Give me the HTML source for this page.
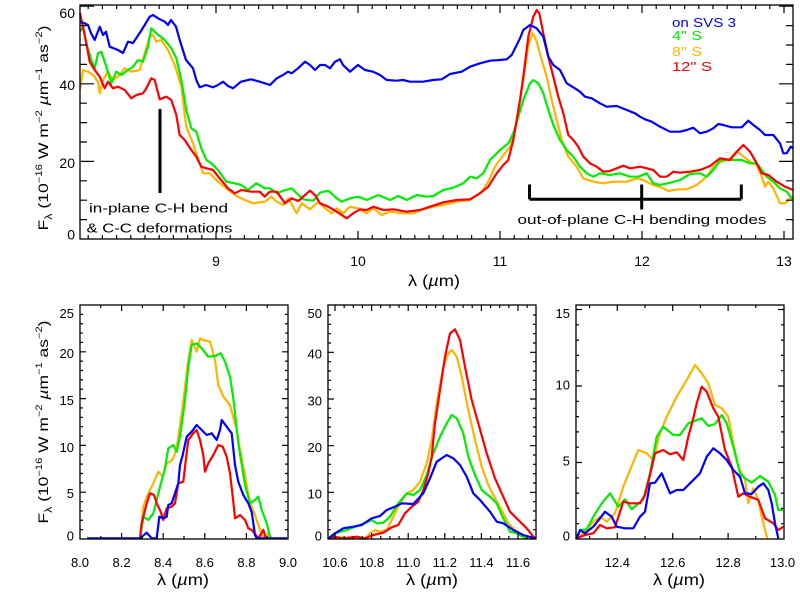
<!DOCTYPE html>
<html>
<head>
<meta charset="utf-8">
<style>
html,body{margin:0;padding:0;background:#fff;}
svg{display:block;}
text{font-family:"Liberation Sans",sans-serif;fill:#000;}
</style>
</head>
<body>
<svg width="800" height="600" viewBox="0 0 800 600" xmlns="http://www.w3.org/2000/svg">
<rect x="0" y="0" width="800" height="600" fill="#fff"/>

<!-- ===== TOP PANEL ===== -->
<g fill="none" stroke-width="2.2" stroke-linejoin="round">
<polyline stroke="#ffb400" points="80,90 83,70 88,71.7 93,75 98,81.7 99.7,93.3 103,80 108,71.7 113,80 118,76.7 124.7,68.3 131.3,71.7 139.7,70 144.7,53.3 149.7,36.7 153,35 156.3,41.7 161.3,40 168,50 174.7,65 181.3,86.7 186.3,126.7 193,143.3 198,158.3 203,173.3 209.7,173.3 218,181.7 226.3,188.3 234.7,195 244.7,200 253,203.3 264.7,201.7 271.3,196.7 276.7,201.7 283.3,205 288.3,198.3 296.7,213.3 301.7,203.3 310,209.3 318.3,201.7 325,208.3 331.7,213.3 336.7,208.3 343.3,213.3 350,206.7 358.3,208.3 366.7,213.3 373.3,208.3 381.7,215 390,211.7 403.3,213.3 413.3,213.3 423.3,209.3 433.3,206.7 443.3,205 456.7,201.7 470,200 481.7,191.7 488.3,181.7 495,166.7 503.3,155 510,146.7 515,130 518.3,110 523.3,80 528.3,45 532.7,33.3 536.7,41.7 541.7,60 546.7,76.7 551.7,100 556.7,120 561.7,140 568.3,156.7 576.7,166.7 583.3,178.3 593.3,181.7 603.3,183.3 613.3,181.7 626.7,181.7 636.7,178.3 643.3,180 653.3,185 663.3,188.3 668.3,191 678.3,189.3 686.7,189.3 696.7,185 706.7,176.7 713.3,166.7 721.7,161.7 730,158.3 736.7,151.7 741.7,155 750,161.7 756.7,165 761.7,176.7 765,186.7 768.3,181.7 773.3,188.3 780,203.3 785,203.3 790,198.3 793,196.7"/>
<polyline stroke="#00ee00" points="80,31.7 83,26.7 86.3,43.3 91.3,60 94.7,68.3 98,53.3 101.3,51.7 106.3,66.7 111.3,83.3 116.3,71.7 121.3,75 128,70 133,66.7 138,60 143,61.7 148,46.7 151.3,28.3 156.3,33.3 164.7,40 171.3,48.3 176.3,58.3 181.3,80 186.3,110 191.3,128.3 196.3,131.7 201.3,148.3 206.3,160 211.3,163.3 218,170 226.3,181.7 234.7,183.3 241.3,185 248,190 256.3,183.3 264.7,188.3 270,188.3 276.7,193.3 283.3,190.7 291.7,188.3 296.7,193.3 303.3,199.3 313.3,200.7 320,192.7 328.3,190.7 336.7,198.3 341.7,201.7 350,198.3 358.3,196.7 366.7,200 378.3,195 390,200 398.3,196 406.7,200 416.7,195 426.7,196.7 433.3,196 443.3,190 453.3,187.7 463.3,183.3 470,176.7 476.7,178.3 483.3,173.3 490,160 500,150 508.3,143.3 513.3,133.3 518.3,116.7 523.3,100 530,83.3 533.3,80 538.3,83.3 543.3,93.3 548.3,110 553.3,125 560,140 566.7,150 573.3,156.7 580,166.7 586.7,173.3 593.3,176.7 600,173.3 610,175 620,173.3 630,176.7 638.3,176.7 646.7,173.3 653.3,183.3 660,185 670,182.7 680,180 690,174 700,173.3 706.7,176.7 713.3,170 720,160 730,160 741.7,160 750,163.3 756.7,163.3 761.7,170 766.7,176.7 773.3,181.7 780,188.3 786.7,191.7 793,200"/>
<polyline stroke="#ff0000" points="80,13.3 83,26.7 86.3,43.3 89.7,61.7 94.7,70 99.7,76.7 104.7,88.3 108,81.7 113,88.3 118,86.7 124.7,90 131.3,98.3 136.3,95 143,93.3 146.3,88.3 151.3,78.3 154.7,80 159.7,99.3 166.3,96.7 171.3,100 176.3,115 179.7,135 184.7,140 191.3,150 196.3,156.7 201.3,166.7 206.3,168.3 213,170 219.7,178.3 228,188.3 234.7,193.3 241.3,190 251.3,191.7 259.7,191.7 264.7,196.7 269.7,191.7 276.7,191.7 285,203.3 291.7,198.3 298.3,201 305,195 310,190.7 315,195 320,203.3 328.3,206.7 336.7,211.7 346.7,218.3 353.3,213.3 360,209.3 366.7,210 373.3,206.7 383.3,210 393.3,209.3 406.7,211.7 420,210 430,206.7 443.3,202.3 456.7,200 470,199.3 480,193.3 488.3,186.7 496.7,173.3 503.3,165 508.3,160 513.3,140 516.7,120 520,100 523.3,76.7 528.3,36.7 533.3,16.7 536.7,10 539.3,13.3 543.3,33.3 548.3,56.7 553.3,76.7 558.3,96.7 563.3,113.3 568.3,135 573.3,140 578.3,146.7 583.3,156.7 590,163.3 596.7,166.7 603.3,171.7 610,171 616.7,168.3 623.3,165.7 630,168.3 640,166.7 646.7,168.3 653.3,170 660,176.7 666.7,176.7 673.3,171.7 680,172.7 690,171.7 700,170 710,166 720,158.3 730,160 736.7,151.7 743.3,145 750,151.7 756.7,163.3 761.7,173.3 768.3,175 776.7,181.7 785,186.7 793,190"/>
<polyline stroke="#0000ff" points="80,22 84.7,23.3 88,25 91,33 94.7,40 99.7,26.7 103,35 106,31.7 109.7,46.7 118,50 123,53 128,41.7 133,43 139.7,33 144.7,25 149.7,16.7 153,15 158,18.3 164.7,21.7 168,25 171,20 176,26.7 179.7,40 186,60 193,68.3 196.3,80 199.7,87.3 206,85 213,87.3 218,85 223,81.7 228,86 233,88.3 241,81.7 251,79.3 259.7,81.7 270,85 276.7,78.3 283,75 288,71.7 291.7,73.3 298,68.3 305,61.7 310,65 315,70 320,65 325,65 330,68.3 335,61.7 340,59.3 343,65 350,71.7 358,65 365,70 373,71.7 380,75 386.7,80 396.7,80.7 403,80 410,81.7 423,81.7 433,80 441.7,79.3 450,74 461.7,71.7 470,66.7 480,63.3 490,60.7 500,60 506.7,59.3 511.7,55 516.7,45 520,38.3 523.3,30 530,25 536.7,28.3 543.3,36.7 548.3,56.7 553.3,65 560,70 566.7,83.3 573.3,87.3 580,91.7 585,96.7 591.7,98.3 600,103.3 606.7,106.7 616.7,106 626.7,110 635,113.3 640,116.7 645,119.3 651.7,121.7 660,126.7 670,131.7 680,131.7 686.7,130 693.3,127.7 700,133.3 706.7,131.7 713.3,128.3 718.3,124 723.3,125 731.7,127.3 741.7,127.3 748.3,120.7 753.3,125 760,130 765,135 773.3,135 780,143.3 783.3,153.3 786.7,153.3 790.7,146.7 793,148"/>
</g>

<!-- top frame + ticks -->
<rect x="80" y="5" width="713" height="234" fill="none" stroke="#000" stroke-width="1.3"/>
<path fill="none" stroke="#000" stroke-width="1.2" d="
M88.2,239v-4M102.4,239v-4M116.6,239v-4M130.8,239v-4M145,239v-4M159.2,239v-4M173.4,239v-4M187.6,239v-4M201.8,239v-4M230.2,239v-4M244.4,239v-4M258.6,239v-4M272.8,239v-4M287,239v-4M301.2,239v-4M315.4,239v-4M329.6,239v-4M343.8,239v-4M372.2,239v-4M386.4,239v-4M400.6,239v-4M414.8,239v-4M429,239v-4M443.2,239v-4M457.4,239v-4M471.6,239v-4M485.8,239v-4M514.2,239v-4M528.4,239v-4M542.6,239v-4M556.8,239v-4M571,239v-4M585.2,239v-4M599.4,239v-4M613.6,239v-4M627.8,239v-4M656.2,239v-4M670.4,239v-4M684.6,239v-4M698.8,239v-4M713,239v-4M727.2,239v-4M741.4,239v-4M755.6,239v-4M769.8,239v-4
M216,239v-8M358,239v-8M500,239v-8M642,239v-8M784,239v-8
M88.2,5v4M102.4,5v4M116.6,5v4M130.8,5v4M145,5v4M159.2,5v4M173.4,5v4M187.6,5v4M201.8,5v4M230.2,5v4M244.4,5v4M258.6,5v4M272.8,5v4M287,5v4M301.2,5v4M315.4,5v4M329.6,5v4M343.8,5v4M372.2,5v4M386.4,5v4M400.6,5v4M414.8,5v4M429,5v4M443.2,5v4M457.4,5v4M471.6,5v4M485.8,5v4M514.2,5v4M528.4,5v4M542.6,5v4M556.8,5v4M571,5v4M585.2,5v4M599.4,5v4M613.6,5v4M627.8,5v4M656.2,5v4M670.4,5v4M684.6,5v4M698.8,5v4M713,5v4M727.2,5v4M741.4,5v4M755.6,5v4M769.8,5v4
M216,5v8M358,5v8M500,5v8M642,5v8M784,5v8
M80,219.6h7M80,200.2h7M80,180.8h7M80,142h7M80,122.6h7M80,103.2h7M80,64.4h7M80,45h7M80,25.6h7
M80,161.4h14M80,83.8h14M80,6.2h14
M793,219.6h-7M793,200.2h-7M793,180.8h-7M793,142h-7M793,122.6h-7M793,103.2h-7M793,64.4h-7M793,45h-7M793,25.6h-7
M793,161.4h-14M793,83.8h-14M793,6.2h-14"/>

<!-- top tick labels -->
<g font-size="14">
<text x="216" y="266" text-anchor="middle">9</text>
<text x="358" y="266" text-anchor="middle">10</text>
<text x="500" y="266" text-anchor="middle">11</text>
<text x="642" y="266" text-anchor="middle">12</text>
<text x="784" y="266" text-anchor="middle">13</text>
<text x="75" y="18" text-anchor="end">60</text>
<text x="75" y="90" text-anchor="end">40</text>
<text x="75" y="168" text-anchor="end">20</text>
<text x="75" y="239.5" text-anchor="end">0</text>
</g>

<!-- top axis titles -->
<text x="434" y="286" text-anchor="middle" font-size="16" textLength="52" lengthAdjust="spacingAndGlyphs">λ (<tspan font-style="italic">µ</tspan>m)</text>
<text transform="translate(48,128) rotate(-90)" text-anchor="middle" font-size="14" textLength="205" lengthAdjust="spacingAndGlyphs">F<tspan font-size="10" dy="4">λ</tspan><tspan dy="-4"> (10</tspan><tspan font-size="9" dy="-6">−16</tspan><tspan dy="6"> W m</tspan><tspan font-size="9" dy="-6">−2</tspan><tspan dy="6"> </tspan><tspan font-style="italic">µ</tspan><tspan>m</tspan><tspan font-size="9" dy="-6">−1</tspan><tspan dy="6"> as</tspan><tspan font-size="9" dy="-6">−2</tspan><tspan dy="6">)</tspan></text>

<!-- legend -->
<g font-size="12.5">
<text x="672" y="27" fill="#0000ff" style="fill:#0000ff" textLength="64" lengthAdjust="spacingAndGlyphs">on SVS 3</text>
<text x="672" y="40" style="fill:#00ee00" textLength="30" lengthAdjust="spacingAndGlyphs">4'' S</text>
<text x="672" y="56" style="fill:#ffb400" textLength="30" lengthAdjust="spacingAndGlyphs">8'' S</text>
<text x="672" y="71" style="fill:#ff0000" textLength="40" lengthAdjust="spacingAndGlyphs">12'' S</text>
</g>

<!-- annotations -->
<rect x="158.5" y="109" width="3" height="84" fill="#000"/>
<path fill="none" stroke="#000" stroke-width="3" d="M529.5,184.5V199.2M529.5,199.2H741.3M741.3,184.5V199.2M641.7,184.5V209.5"/>
<g font-size="12.5">
<text x="89" y="212.7" textLength="139" lengthAdjust="spacingAndGlyphs">in-plane C-H bend</text>
<text x="86.5" y="232.3" textLength="146" lengthAdjust="spacingAndGlyphs">&amp; C-C deformations</text>
<text x="517.5" y="224" textLength="249" lengthAdjust="spacingAndGlyphs">out-of-plane C-H bending modes</text>
</g>

<!-- ===== BOTTOM PANEL 1 ===== -->
<g fill="none" stroke-width="2.2" stroke-linejoin="round">
<polyline stroke="#ffb400" points="140,538.3 143.3,506.7 146.7,496.7 153.3,483.3 158.3,471.7 162.7,476.7 166.7,463.3 170,461.7 173.3,458.3 176.7,448.3 181.7,413.3 185,386.7 188.3,360 191.7,340 196.7,351.7 200,338.3 203.3,340 210,341.7 215,360 218.3,385 223.3,396.7 230,405 236.7,430 240,450 245,475 248.3,495 251.7,506.7 255,515 260,530 263.3,538.3 268.3,533.3 270,538.3"/>
<polyline stroke="#00ee00" points="140,538.3 143.3,516.7 148.3,520 153.3,513.3 156.7,500 160,486.7 165,468.3 168.3,448.3 173.3,445 176.7,451.7 180,436.7 185,400 188.3,366.7 191.7,345 196.7,343.3 201.7,348.3 208.3,356.7 215,356 220.7,353.3 225,361.7 230,376.7 233.3,398.3 238.3,443.3 245,485 250,503.3 255,500 258.3,496.7 261.7,510 266.7,523.3 270,536.7 271.7,538.3"/>
<polyline stroke="#ff0000" points="140,538.3 141.7,523.3 146.7,503.3 150,493.3 154,495 156.7,503.3 160.7,511.7 163.3,520 166.7,508.3 171.7,506.7 175,503.3 178.3,483.3 183.3,481.7 185,466.7 188.3,440 193.3,433.3 196.7,430 200,440 203.3,455 205,471.7 208.3,463.3 213.3,455 218.3,445 222.7,446.7 226.7,456.7 230,473.3 233.3,501.7 235,518.3 240,515 245,520 248.3,528.3 251.7,530 258.3,538.3 263.3,530 266,538.3"/>
<polyline stroke="#0000ff" points="87,538.3 140,538.3 146.7,532.7 151.7,538.3 156.7,538.3 159.3,516.7 163.3,518.3 166.7,516.7 168.3,505 171.7,503.3 173.3,498.3 178.3,483.3 180,465 182.7,455 186.7,436.7 191.7,431.7 196.7,425 201.7,430 206.7,435 211.7,433.3 216.7,440 220,430 221.7,420 226.7,426.7 231.7,433.3 235,465 238.3,481.7 243.3,495 248.3,503.3 251.7,512 255,535 256.7,538.3 287,538.3"/>
</g>
<rect x="80" y="305" width="208" height="234" fill="none" stroke="#000" stroke-width="1.3"/>
<path fill="none" stroke="#000" stroke-width="1.2" d="
M100.8,539v-3M142.4,539v-3M184,539v-3M225.6,539v-3M267.2,539v-3
M121.6,539v-6M163.2,539v-6M204.8,539v-6M246.4,539v-6
M100.8,305v3M142.4,305v3M184,305v3M225.6,305v3M267.2,305v3
M121.6,305v6M163.2,305v6M204.8,305v6M246.4,305v6
M80,529.64h3M80,520.28h3M80,510.92h3M80,501.56h3M80,482.84h3M80,473.48h3M80,464.12h3M80,454.76h3M80,436.04h3M80,426.68h3M80,417.32h3M80,407.96h3M80,389.24h3M80,379.88h3M80,370.52h3M80,361.16h3M80,342.44h3M80,333.08h3M80,323.72h3M80,314.36h3
M80,492.2h6M80,445.4h6M80,398.6h6M80,351.8h6
M288,529.64h-3M288,520.28h-3M288,510.92h-3M288,501.56h-3M288,482.84h-3M288,473.48h-3M288,464.12h-3M288,454.76h-3M288,436.04h-3M288,426.68h-3M288,417.32h-3M288,407.96h-3M288,389.24h-3M288,379.88h-3M288,370.52h-3M288,361.16h-3M288,342.44h-3M288,333.08h-3M288,323.72h-3M288,314.36h-3
M288,492.2h-6M288,445.4h-6M288,398.6h-6M288,351.8h-6"/>
<g font-size="13">
<text x="74" y="318" text-anchor="end">25</text>
<text x="74" y="358" text-anchor="end">20</text>
<text x="74" y="405" text-anchor="end">15</text>
<text x="74" y="452" text-anchor="end">10</text>
<text x="74" y="498" text-anchor="end">5</text>
<text x="74" y="540.5" text-anchor="end">0</text>
<text x="80" y="567" text-anchor="middle">8.0</text>
<text x="121.6" y="567" text-anchor="middle">8.2</text>
<text x="163.2" y="567" text-anchor="middle">8.4</text>
<text x="204.8" y="567" text-anchor="middle">8.6</text>
<text x="246.4" y="567" text-anchor="middle">8.8</text>
<text x="288" y="567" text-anchor="middle">9.0</text>
</g>
<text x="183" y="585" text-anchor="middle" font-size="16" textLength="52" lengthAdjust="spacingAndGlyphs">λ (<tspan font-style="italic">µ</tspan>m)</text>
<text transform="translate(48,422) rotate(-90)" text-anchor="middle" font-size="14" textLength="203" lengthAdjust="spacingAndGlyphs">F<tspan font-size="10" dy="4">λ</tspan><tspan dy="-4"> (10</tspan><tspan font-size="9" dy="-6">−16</tspan><tspan dy="6"> W m</tspan><tspan font-size="9" dy="-6">−2</tspan><tspan dy="6"> </tspan><tspan font-style="italic">µ</tspan><tspan>m</tspan><tspan font-size="9" dy="-6">−1</tspan><tspan dy="6"> as</tspan><tspan font-size="9" dy="-6">−2</tspan><tspan dy="6">)</tspan></text>

<!-- ===== BOTTOM PANEL 2 ===== -->
<g fill="none" stroke-width="2.2" stroke-linejoin="round">
<polyline stroke="#ffb400" points="328,538.3 340,537.3 353.3,538.3 365,539 370,533.3 375,530 380,531.7 386.7,530 393.3,516.7 400,503.3 406.7,493.3 413.3,490 420,481.7 426.7,463.3 431.7,440 436.7,403.3 443.3,366.7 448.3,353.3 451.7,350 456.7,356.7 461.7,376.7 468.3,410 475,440 481.7,466.7 488.3,485 495,498.3 501.7,510 508.3,523.3 516.7,531.7 525,536.7 533.3,538.3"/>
<polyline stroke="#00ee00" points="328,538.3 335,533.3 346.7,530 360,525 371.7,520 376.7,523.3 383.3,522.7 390,516.7 398.3,503.3 406.7,493.3 413.3,495 420,490 426.7,475 433.3,453.3 440,436.7 446.7,423.3 451.7,415 456.7,418.3 463.3,433.3 468.3,456.7 475,475 481.7,490 490,496.7 496.7,503.3 501.7,515 510,531.7 516.7,533.3 526.7,539"/>
<polyline stroke="#ff0000" points="328,538.3 335,536.7 341.7,538.3 356.7,536.7 365,538.3 373.3,535 383.3,532.7 391.7,527.3 398.3,525 405,513.3 411.7,506.7 418.3,501.7 423.3,490 428.3,473.3 431.7,456.7 435,423.3 440,390 445,356.7 450,333.3 455,329.3 460,340 465,366.7 471.7,400 478.3,423.3 486.7,453.3 495,478.3 501.7,493.3 510,511.7 518.3,520 526.7,528.3 533.3,536.7 536,538.3"/>
<polyline stroke="#0000ff" points="328,539 335,533.3 343.3,528.3 353.3,526.7 361.7,525 371.7,518.3 380,516 386.7,510 395,506.7 401.7,503.3 413.3,504 423.3,493.3 430,478.3 436.7,461.7 446.7,455 453.3,458.3 460,465 466.7,476.7 473.3,493.3 480,500 490,511.7 496.7,521.7 503.3,523.3 513.3,530 523.3,535 535,538.3"/>
</g>
<rect x="328" y="305" width="208" height="234" fill="none" stroke="#000" stroke-width="1.3"/>
<path fill="none" stroke="#000" stroke-width="1.2" d="
M344.15,539v-3M353.3,539v-3M362.45,539v-3M380.75,539v-3M389.9,539v-3M399.05,539v-3M417.35,539v-3M426.5,539v-3M435.65,539v-3M453.95,539v-3M463.1,539v-3M472.25,539v-3M490.55,539v-3M499.7,539v-3M508.85,539v-3M527.15,539v-3
M335,539v-6M371.6,539v-6M408.2,539v-6M444.8,539v-6M481.4,539v-6M518,539v-6
M344.15,305v3M353.3,305v3M362.45,305v3M380.75,305v3M389.9,305v3M399.05,305v3M417.35,305v3M426.5,305v3M435.65,305v3M453.95,305v3M463.1,305v3M472.25,305v3M490.55,305v3M499.7,305v3M508.85,305v3M527.15,305v3
M335,305v6M371.6,305v6M408.2,305v6M444.8,305v6M481.4,305v6M518,305v6
M328,529.67h3M328,520.33h3M328,511h3M328,501.67h3M328,483h3M328,473.67h3M328,464.33h3M328,455h3M328,436.33h3M328,427h3M328,417.67h3M328,408.33h3M328,389.67h3M328,380.33h3M328,371h3M328,361.67h3M328,343h3M328,333.67h3M328,324.33h3M328,315h3
M328,492.33h6M328,445.67h6M328,399h6M328,352.33h6
M536,529.67h-3M536,520.33h-3M536,511h-3M536,501.67h-3M536,483h-3M536,473.67h-3M536,464.33h-3M536,455h-3M536,436.33h-3M536,427h-3M536,417.67h-3M536,408.33h-3M536,389.67h-3M536,380.33h-3M536,371h-3M536,361.67h-3M536,343h-3M536,333.67h-3M536,324.33h-3M536,315h-3
M536,492.33h-6M536,445.67h-6M536,399h-6M536,352.33h-6"/>
<g font-size="13">
<text x="322" y="318" text-anchor="end">50</text>
<text x="322" y="358.5" text-anchor="end">40</text>
<text x="322" y="405.5" text-anchor="end">30</text>
<text x="322" y="452" text-anchor="end">20</text>
<text x="322" y="498.5" text-anchor="end">10</text>
<text x="322" y="540.5" text-anchor="end">0</text>
<text x="335" y="567" text-anchor="middle">10.6</text>
<text x="371.6" y="567" text-anchor="middle">10.8</text>
<text x="408.2" y="567" text-anchor="middle">11.0</text>
<text x="444.8" y="567" text-anchor="middle">11.2</text>
<text x="481.4" y="567" text-anchor="middle">11.4</text>
<text x="518" y="567" text-anchor="middle">11.6</text>
</g>
<text x="432" y="585" text-anchor="middle" font-size="16" textLength="52" lengthAdjust="spacingAndGlyphs">λ (<tspan font-style="italic">µ</tspan>m)</text>

<!-- ===== BOTTOM PANEL 3 ===== -->
<g fill="none" stroke-width="2.2" stroke-linejoin="round">
<polyline stroke="#ffb400" points="576.7,538.3 586.7,530 593.3,521.7 600,516.7 606.7,521.7 615,513.3 623.3,486.7 630,470 638.3,450 646.7,453.3 653.3,460 660,433.3 666.7,416.7 676.7,396.7 686.7,380 695,365 701.7,373.3 708.3,383.3 715,405 721.7,408.3 728.3,416.7 733.3,443.3 738.3,466.7 745,480 748.3,503.3 753.3,488.3 758.3,500 761.7,516.7 765,530 767.3,538.3"/>
<polyline stroke="#00ee00" points="576.7,536.7 580,530 586.7,529.3 593.3,516.7 601.7,503.3 610,493.3 618.3,506.7 625,499.3 631.7,509.3 643.3,499.3 650,473.3 656.7,436.7 663.3,426.7 673.3,435 680,435 688.3,423.3 701.7,418.3 708.3,426 715,424 721.7,415 726.7,423.3 733.3,446.7 740,473.3 745,478.3 751.7,482.7 760,476 768.3,481.7 775,495 778.3,510 783.3,510"/>
<polyline stroke="#ff0000" points="576.7,538.3 585,535 593.3,533.3 600,525 606.7,528.3 615,527.3 623.3,501.7 630,503.3 640,503.3 645,495 650,475 655,453.3 663.3,450 670,454.3 676.7,452.3 683.3,460 688.3,436.7 693.3,418.3 696.7,403.3 701.7,386.7 706.7,391.7 713.3,408.3 718.3,416.7 725,450 731.7,466.7 738.3,496.7 743.3,493.3 750,496.7 758.3,500 765,518.3 773.3,523.3 778.3,530 783.3,526.7"/>
<polyline stroke="#0000ff" points="576.7,538.3 580,530 585,533.3 593.3,526.7 600,518.3 605,511.7 611.7,516.7 616.7,526.7 625,528.3 633.3,528.3 640,516.7 645,511.7 650,483.3 655,482.7 661.7,473.3 670,493.3 676.7,490 683.3,490 690,483.3 700,473.3 706.7,456.7 713.3,448.3 720,453.3 726.7,460 733.3,470 740,476.7 745,493.3 751.7,494 758.3,486.7 763.3,483.3 768.3,490 771.7,503.3 775,523.3 778.3,538.3"/>
</g>
<rect x="576" y="305" width="208" height="234" fill="none" stroke="#000" stroke-width="1.3"/>
<path fill="none" stroke="#000" stroke-width="1.2" d="
M589.6,539v-3M645,539v-3M700.4,539v-3M755.8,539v-3
M617.3,539v-6M672.7,539v-6M728.1,539v-6
M589.6,305v3M645,305v3M700.4,305v3M755.8,305v3
M617.3,305v6M672.7,305v6M728.1,305v6
M576,523.7h3M576,508.4h3M576,493.1h3M576,477.8h3M576,447.2h3M576,431.9h3M576,416.6h3M576,401.3h3M576,370.7h3M576,355.4h3M576,340.1h3M576,324.8h3
M576,462.5h6M576,386h6M576,309.5h6
M784,523.7h-3M784,508.4h-3M784,493.1h-3M784,477.8h-3M784,447.2h-3M784,431.9h-3M784,416.6h-3M784,401.3h-3M784,370.7h-3M784,355.4h-3M784,340.1h-3M784,324.8h-3
M784,462.5h-6M784,386h-6M784,309.5h-6"/>
<g font-size="13">
<text x="570" y="318" text-anchor="end">15</text>
<text x="570" y="389.5" text-anchor="end">10</text>
<text x="570" y="465.5" text-anchor="end">5</text>
<text x="570" y="540.5" text-anchor="end">0</text>
<text x="617.3" y="567" text-anchor="middle">12.4</text>
<text x="672.7" y="567" text-anchor="middle">12.6</text>
<text x="728.1" y="567" text-anchor="middle">12.8</text>
<text x="782.5" y="567" text-anchor="middle">13.0</text>
</g>
<text x="679" y="585" text-anchor="middle" font-size="16" textLength="52" lengthAdjust="spacingAndGlyphs">λ (<tspan font-style="italic">µ</tspan>m)</text>

</svg>
</body>
</html>
